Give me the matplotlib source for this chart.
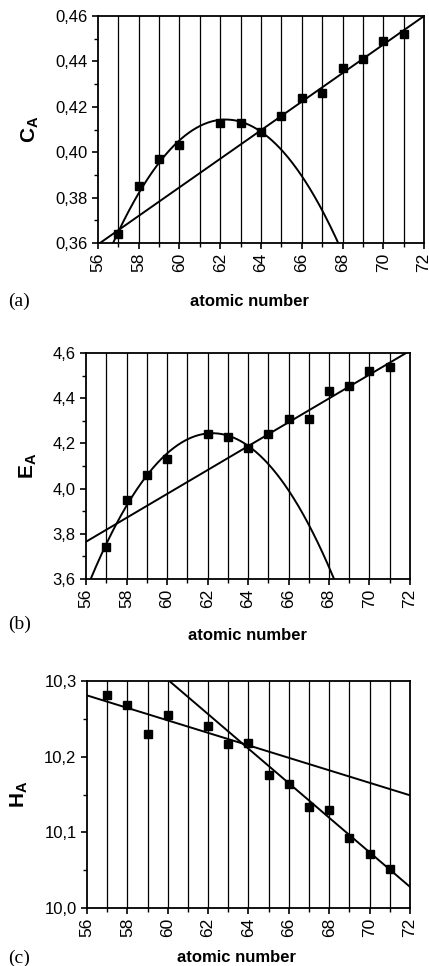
import matplotlib
matplotlib.use("Agg")
import matplotlib.pyplot as plt
import numpy as np
from matplotlib.ticker import MultipleLocator, FuncFormatter

plt.rcParams['font.family'] = ['Liberation Sans', 'DejaVu Sans']
plt.rcParams['mathtext.fontset'] = 'custom'
plt.rcParams['mathtext.rm'] = 'Liberation Sans'
plt.rcParams['mathtext.bf'] = 'Liberation Sans:bold'

# atomic numbers of the measured points (no 61)
z = [57, 58, 59, 60, 62, 63, 64, 65, 66, 67, 68, 69, 70, 71]

# (a) C_A
c_a = [0.364, 0.385, 0.397, 0.403, 0.413, 0.413, 0.409, 0.416, 0.424, 0.426,
       0.437, 0.441, 0.449, 0.452]
# (b) E_A
e_a = [3.74, 3.95, 4.06, 4.13, 4.24, 4.23, 4.18, 4.24, 4.31, 4.31,
       4.43, 4.455, 4.52, 4.54]
# (c) H_A
h_a = [10.281, 10.268, 10.230, 10.255, 10.240, 10.217, 10.218, 10.176, 10.164,
       10.133, 10.130, 10.093, 10.072, 10.052]

# fitted lines / curves, read as points off the picture
line_a_x, line_a_y = [56, 72], [0.3594, 0.460]
curve_a_x, curve_a_y = [56.74, 62.2, 67.79], [0.360, 0.4144, 0.360]
line_b_x, line_b_y = [56, 72], [3.765, 4.61]
curve_b_x, curve_b_y = [56.23, 62.24, 68.25], [3.600, 4.245, 3.600]
line_c1_x, line_c1_y = [56, 72], [10.281, 10.149]
line_c2_x, line_c2_y = [60.08, 72], [10.300, 10.028]

x_ticks = [56, 58, 60, 62, 64, 66, 68, 70, 72]


def comma(v, nd):
    return f"{v:.{nd}f}".replace('.', ',')


def style(ax, ylo, yhi, ystep, nd, ylabel):
    ax.set_xlim(56, 72)
    ax.set_ylim(ylo, yhi)
    for g in range(57, 72):
        ax.axvline(g, color='black', lw=0.9, zorder=1)
    ax.set_xticks(x_ticks)
    ax.set_xticklabels([str(t) for t in x_ticks], rotation=90, fontsize=12.5)
    ax.xaxis.set_minor_locator(MultipleLocator(1))
    ax.yaxis.set_major_locator(MultipleLocator(ystep))
    ax.yaxis.set_minor_locator(MultipleLocator(ystep / 2))
    ax.yaxis.set_major_formatter(FuncFormatter(lambda v, p: comma(v, nd)))
    ax.tick_params(axis='both', which='major', direction='out', length=4, width=1.2)
    ax.tick_params(axis='y', labelsize=12)
    ax.tick_params(axis='both', which='minor', direction='out', length=3, width=1.0)
    ax.tick_params(axis='x', pad=3)
    for sp in ax.spines.values():
        sp.set_linewidth(1.3)
    ax.set_ylabel(ylabel, fontsize=15, labelpad=10)


def fit_curve(xs, ys, deg, x0, x1):
    coef = np.polyfit(xs, ys, deg)
    xx = np.linspace(x0, x1, 300)
    return xx, np.polyval(coef, xx)


fig = plt.figure(figsize=(4.29, 9.66), dpi=100)

# (a)
ax1 = fig.add_axes([0.2284, 0.7484, 0.760, 0.235])
style(ax1, 0.36, 0.46, 0.02, 2, r'$\mathbf{C}_{\mathbf{A}}$')
ax1.plot(line_a_x, line_a_y, color='black', lw=1.4, zorder=3)
xx, yy = fit_curve(curve_a_x, curve_a_y, 2, curve_a_x[0], curve_a_x[-1])
ax1.plot(xx, yy, color='black', lw=1.4, zorder=3)
ax1.plot(z, c_a, 's', color='black', ms=6, zorder=4, clip_on=False)

# (b)
ax2 = fig.add_axes([0.2005, 0.4006, 0.7552, 0.234])
style(ax2, 3.6, 4.6, 0.2, 1, r'$\mathbf{E}_{\mathbf{A}}$')
ax2.plot(line_b_x, line_b_y, color='black', lw=1.4, zorder=3)
xx, yy = fit_curve(curve_b_x, curve_b_y, 2, curve_b_x[0], curve_b_x[-1])
ax2.plot(xx, yy, color='black', lw=1.4, zorder=3)
ax2.plot(z, e_a, 's', color='black', ms=6, zorder=4, clip_on=False)

# (c)
ax3 = fig.add_axes([0.2028, 0.0600, 0.7529, 0.235])
style(ax3, 10.0, 10.3, 0.1, 1, r'$\mathbf{H}_{\mathbf{A}}$')
ax3.plot(line_c1_x, line_c1_y, color='black', lw=1.4, zorder=3)
ax3.plot(line_c2_x, line_c2_y, color='black', lw=1.4, zorder=3)
ax3.plot(z, h_a, 's', color='black', ms=6, zorder=4, clip_on=False)

# x labels and panel letters
W, H = 429, 966
for xc, yc, letter_y, letter in [(250, 301, 301, '(a)'), (248, 635, 624, '(b)'),
                                 (237, 958, 958, '(c)')]:
    fig.text(xc / W, 1 - yc / H, 'atomic number', ha='center', va='center',
             fontsize=12, fontweight='bold')
    fig.text(8 / W, 1 - letter_y / H, letter, ha='left', va='center', fontsize=14,
             family=['Liberation Serif', 'DejaVu Serif'])

fig.savefig('out.png', dpi=100)
